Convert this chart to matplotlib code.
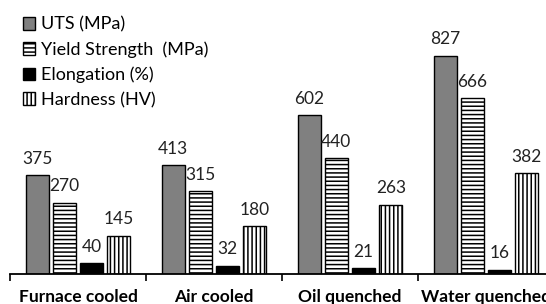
import matplotlib.pyplot as plt
import numpy as np

# data
groups = ['Furnace cooled', 'Air cooled', 'Oil quenched', 'Water quenched']
uts = [375, 413, 602, 827]
yield_str = [270, 315, 440, 666]
elongation = [40, 32, 21, 16]
hardness = [145, 180, 263, 382]

series = [
    ('UTS (MPa)', uts, '#808080', None),
    ('Yield Strength  (MPa)', yield_str, 'white', '----'),
    ('Elongation (%)', elongation, 'black', None),
    ('Hardness (HV)', hardness, 'white', '||||'),
]

plt.rcParams['font.family'] = ['Lato', 'DejaVu Sans']
plt.rcParams['hatch.linewidth'] = 1.1

fig = plt.figure(figsize=(5.46, 3.04), dpi=100)
ax = fig.add_axes([10 / 546, 30 / 304, 544 / 546, 274 / 304])

x = np.arange(len(groups))
width = 0.17
step = 0.2
for i, (name, vals, color, hatch) in enumerate(series):
    pos = x + (i - 1.5) * step
    bars = ax.bar(pos, vals, width, color=color, edgecolor='black',
                  linewidth=1.0, hatch=hatch, label=name)
    for b, v in zip(bars, vals):
        ax.annotate(str(v), (b.get_x() + b.get_width() / 2, v),
                    xytext=(0, 6), textcoords='offset points',
                    ha='center', va='bottom', fontsize=12.5, color='#222222')

ax.set_xlim(-0.5, 3.5)
ax.set_ylim(0, 274 / 0.264)

for s in ['top', 'right', 'left']:
    ax.spines[s].set_visible(False)
ax.spines['bottom'].set_linewidth(1.3)
ax.set_yticks([])

ax.set_xticks(np.arange(-0.5, 4, 1))
ax.set_xticklabels([])
ax.tick_params(axis='x', which='major', length=5, width=1.2, direction='out')
ax.set_xticks(x, minor=True)
ax.set_xticklabels(groups, minor=True, fontweight='bold', fontsize=12.5)
ax.tick_params(axis='x', which='minor', length=0, pad=11)

ax.legend(loc='upper left', bbox_to_anchor=(0.0, 1.0 - 4 / 274), frameon=False,
          fontsize=13, handlelength=0.7, handleheight=0.7,
          handletextpad=0.3, labelspacing=0.48, borderaxespad=0.3)

fig.savefig('out.png', dpi=100)
